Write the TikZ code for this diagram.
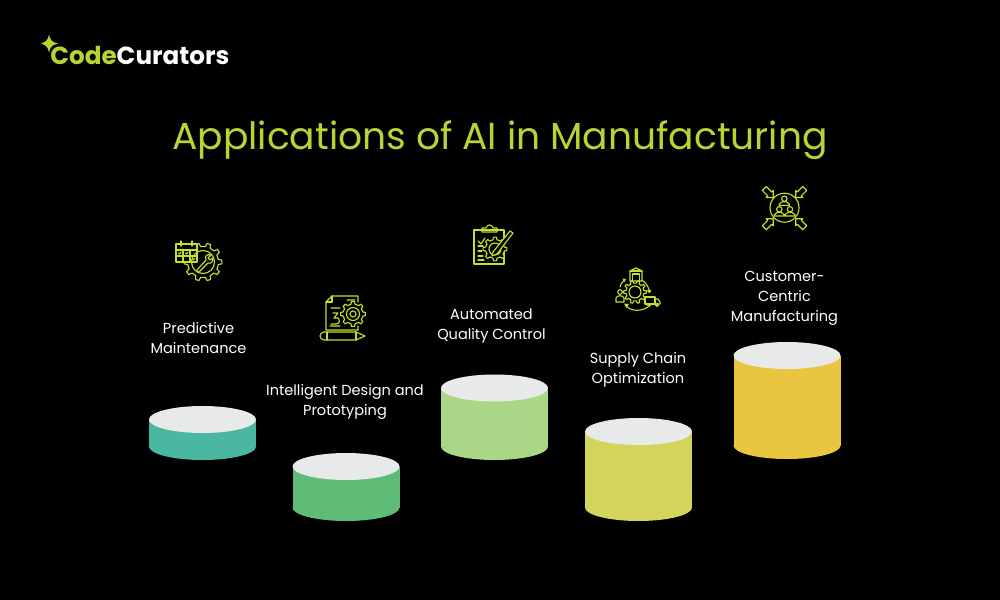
\documentclass[tikz,border=0pt]{standalone}
\usepackage{fontspec}
\setmainfont{Poppins}
\definecolor{lime}{HTML}{B7D432}
\definecolor{iconlime}{HTML}{C6DE2E}
\definecolor{captop}{HTML}{E8EAE9}
\definecolor{cteal}{HTML}{4AB8A0}
\definecolor{cgreen}{HTML}{5FBC77}
\definecolor{clight}{HTML}{A9D786}
\definecolor{colive}{HTML}{D3D45C}
\definecolor{cyellow}{HTML}{E8C640}
\tikzset{
  icon/.style={draw=iconlime,line width=0.85pt,line join=round,line cap=round},
  labeltext/.style={text=white,font=\fontsize{10.9}{15}\selectfont,align=center,inner sep=0pt},
}
\newcommand\cylinder[4]{%
  \fill[#4] (#1-53.5,#2) rectangle (#1+53.5,#3);
  \fill[#4] (#1,#3) ellipse [x radius=53.5,y radius=13.5];
  \fill[captop] (#1,#2) ellipse [x radius=53.5,y radius=13.5];
}
% centre x, centre y, outer r, inner r, teeth
\newcommand\gearshape[5]{%
  \filldraw[icon,fill=black] ({#1+#4*cos(180/#5)},{#2+#4*sin(180/#5)})
    \foreach \ti [evaluate=\ti as \ta using \ti*360/#5] in {1,...,#5} {
      -- ({#1+#4*cos(\ta-0.27*360/#5)},{#2+#4*sin(\ta-0.27*360/#5)})
      -- ({#1+#3*cos(\ta-0.15*360/#5)},{#2+#3*sin(\ta-0.15*360/#5)})
      -- ({#1+#3*cos(\ta+0.15*360/#5)},{#2+#3*sin(\ta+0.15*360/#5)})
      -- ({#1+#4*cos(\ta+0.27*360/#5)},{#2+#4*sin(\ta+0.27*360/#5)})
    } -- cycle;
}
\newcommand\person[4]{% x, y of head, head r, body half width
  \draw[icon] (#1,#2) circle (#3);
  \draw[icon] (#1-#4,#2+#3+4) -- (#1-#4,#2+#3+2.4) to[out=-90,in=180] (#1-2,#2+#3+0.4) -- (#1+2,#2+#3+0.4) to[out=0,in=-90] (#1+#4,#2+#3+2.4) -- (#1+#4,#2+#3+4) -- cycle;
}
\newcommand\blockarrow[4]{% tip x, y, direction signs in pixels
  \begin{scope}[shift={(#1,#2)},x={(0.53pt*#3,-0.53pt*#4)},y={(0.53pt*#4,0.53pt*#3)}]
    \draw[icon] (0,0) -- (-5,-5) -- (-5,-2.8) -- (-12.8,-2.8) -- (-12.8,2.8) -- (-5,2.8) -- (-5,5) -- cycle;
  \end{scope}
}
\begin{document}
\begin{tikzpicture}[x=0.75pt,y=-0.75pt]
\fill[black] (0,0) rectangle (1000,600);
\useasboundingbox (0,0) rectangle (1000,600);

% logo
\fill[lime] (49,34.5) .. controls (50,40) and (52,42) .. (58,43.5) .. controls (52,45) and (50,47) .. (49,52.5) .. controls (48,47) and (46,45) .. (41,43.5) .. controls (46,42) and (48,40) .. (49,34.5) -- cycle;
\node[anchor=base west,inner sep=0pt,font=\fontsize{18.5}{20}\bfseries\selectfont] (logo) at (50,64) {\textcolor{lime}{Code}\textcolor{white}{Curators}};

% title
\node[text=lime,inner sep=0pt,font=\fontsize{28.2}{34}\selectfont] (title) at (500,140) {Applications of AI in Manufacturing};

% cylinders
\cylinder{202.5}{419.5}{446.5}{cteal}
\cylinder{346}{466.5}{507.5}{cgreen}
\cylinder{494.5}{388}{446.5}{clight}
\cylinder{638.5}{431.5}{507.5}{colive}
\cylinder{787}{355.5}{445.5}{cyellow}

% labels
\node[labeltext] (l1) at (198.5,338) {Predictive\\Maintenance};
\node[labeltext] (l2) at (345,402) {Intelligent Design and\\Prototyping};
\node[labeltext] (l3) at (491.5,326) {Automated\\Quality Control};
\node[labeltext] (l4) at (638,370) {Supply Chain\\Optimization};
\node[labeltext] (l5) at (784.5,298) {Customer-\\Centric\\Manufacturing};

% icon 1: calendar + wrench gear
\gearshape{203}{262}{19}{15.5}{10}
\filldraw[icon,fill=black] (176,244) rectangle (197,262);
\draw[icon] (203,262) circle (11.5);
\draw[icon] (176,250) -- (197,250) (176,256) -- (197,256) (183,250) -- (183,262) (190,250) -- (190,262);
\draw[icon] (181,241) -- (181,246) (192,241) -- (192,246);
\draw[icon] (178.5,253) -- (179.5,254) -- (181,252) (185.5,253) -- (186.5,254) -- (188,252) (192.5,259) -- (193.5,260) -- (195,258);
\filldraw[icon,fill=black] (197,270) -- (206,260) .. controls (204,255) and (208,254) .. (211,255) -- (208,258) -- (210,260) -- (213,258) .. controls (213,262) and (211,264) .. (208,263) -- (199,272) .. controls (198,273) and (196,271) .. (197,270) -- cycle;

% icon 2: page + gear + pencil
\draw[icon] (358,302) -- (358,296) -- (332,296) -- (326,302) -- (326,330) -- (358,330) -- (358,326);
\draw[icon] (326,302) -- (332,302) -- (332,296);
\draw[icon] (331,308) -- (340,308) (333,313) -- (338,313) -- (334,318) -- (338,318) .. controls (340,320) and (340,324) .. (336,324) -- (331,324) (347,300) -- (355,300) (330,326) -- (340,326);
\gearshape{353}{314}{12.5}{10}{8}
\draw[icon] (353,314) circle (6.5) (353,314) circle (3);
\draw[icon] (324,332) -- (356,332) -- (365,336) -- (356,340) -- (324,340) arc[start angle=90,end angle=270,radius=4] -- cycle;
\draw[icon] (327,332) -- (327,340) (356,332) -- (356,340);

% icon 3: clipboard + gear + pencil
\draw[icon] (504,247) -- (504,264) -- (474,264) -- (474,230) -- (504,230) -- (504,240);
\draw[icon] (482,232) -- (482,228) -- (486,228) .. controls (487,224) and (492,224) .. (493,228) -- (497,228) -- (497,232) -- cycle;
\draw[icon] (478,241) -- (481,244) -- (485,238);
\draw[icon] (478,246) -- (483,246) (478,251) -- (482,251) (478,256) -- (483,256) (478,260) -- (484,260);
\gearshape{495}{249}{12}{9.5}{8}
\draw[icon] (495,249) circle (6);
\filldraw[icon,fill=black] (493,252) -- (510,231) -- (513,233) -- (497,254) -- (492,256) -- cycle;

% icon 4: supply chain
\gearshape{635}{292}{11.5}{9}{10}
\draw[icon] (635,292) circle (6);
\draw[icon] (630,271) -- (636,268) -- (642,271) -- (642,281) -- (630,281) -- cycle;
\draw[icon] (632.5,281) -- (632.5,274) -- (639.5,274) -- (639.5,281) (630,271) -- (642,271);
\draw[icon] (620,292) circle (2.3);
\draw[icon] (616,302) -- (616,298) .. controls (617,295) and (623,295) .. (624,298) -- (624,302) -- cycle;
\draw[icon] (645,297) rectangle (655,304);
\draw[icon] (655,299) -- (658,299) -- (660,302) -- (660,304) -- (655,304);
\draw[icon] (649,305) circle (1.5) (657,305) circle (1.5);
\draw[icon] (642,280) .. controls (646,283) and (648,286) .. (649,290);
\fill[iconlime] (646.5,290) -- (651.5,290) -- (649.5,293.5) -- cycle;
\draw[icon] (648,307) .. controls (642,311) and (632,312) .. (626,306);
\fill[iconlime] (624,303.5) -- (629,304) -- (626.5,308) -- cycle;
\draw[icon] (620,287) .. controls (620,285) and (622,282) .. (624,280.5);
\fill[iconlime] (626,279) -- (622.5,278.5) -- (624.5,282) -- cycle;

% icon 5: customer centric
\draw[icon] (784.5,207.7) circle (14.5);
\person{784.3}{198.7}{2.7}{5}
\person{779.3}{209.3}{2.7}{5}
\person{790}{209.3}{2.7}{5}
\blockarrow{773.3}{197.5}{1}{1}
\blockarrow{795.7}{197.5}{-1}{1}
\blockarrow{773.3}{218.7}{1}{-1}
\blockarrow{795.7}{218.7}{-1}{-1}
\end{tikzpicture}
\end{document}
